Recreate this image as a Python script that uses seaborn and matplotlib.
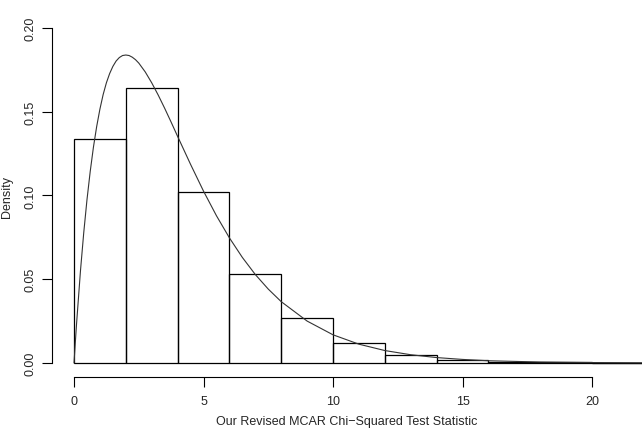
import numpy as np
import matplotlib
matplotlib.use("Agg")
import matplotlib.pyplot as plt
import seaborn as sns

# histogram bins (width 2) and density heights
bin_edges = [0, 2, 4, 6, 8, 10, 12, 14, 16, 18, 20, 22]
bar_heights = [0.134, 0.164, 0.102, 0.053, 0.027, 0.012, 0.0048, 0.0018, 0.0007, 0.0003, 0.0001]

# reference density curve
curve_x = [0, 0.05, 0.1, 0.25, 0.375, 0.5, 0.625, 0.75, 0.875, 1, 1.125, 1.25, 1.375,
           1.5, 1.625, 1.75, 1.875, 2, 2.125, 2.25, 2.375, 2.5, 2.75, 3, 3.25, 3.5,
           3.75, 4, 4.5, 5, 5.5, 6, 6.5, 7, 7.5, 8, 9, 10, 11, 12, 13, 14, 15, 16,
           18, 20, 22]
curve_y = [0, 0.0122, 0.0238, 0.0552, 0.0777, 0.0974, 0.1143, 0.1289, 0.1412, 0.1516,
           0.1603, 0.1673, 0.1728, 0.1771, 0.1803, 0.1824, 0.1836, 0.1839, 0.1836,
           0.1826, 0.1811, 0.1791, 0.1738, 0.1673, 0.1600, 0.1521, 0.1438, 0.1353,
           0.1186, 0.1026, 0.0879, 0.0747, 0.0630, 0.0528, 0.0441, 0.0366, 0.0250,
           0.0168, 0.0112, 0.0074, 0.0049, 0.0032, 0.0021, 0.0013, 0.00055, 0.00023,
           0.00009]

x_ticks = [0, 5, 10, 15, 20]
y_ticks = [0.00, 0.05, 0.10, 0.15, 0.20]

sns.set_style("white")
plt.rcParams["font.family"] = ["Liberation Sans", "DejaVu Sans"]

fig = plt.figure(figsize=(6.42, 4.31), dpi=100)
ax = fig.add_axes([52 / 642, 1 - 378 / 431, 1 - 52 / 642, (378 - 16) / 431])

mids = [(a + b) / 2 for a, b in zip(bin_edges[:-1], bin_edges[1:])]
sns.histplot(x=mids, weights=bar_heights, bins=bin_edges, stat="count",
             fill=False, color="black", linewidth=0.9, element="bars", ax=ax)
sns.lineplot(x=curve_x, y=curve_y, color="#333333", linewidth=0.8, ax=ax)

ax.set_xlim(-0.85, 21.93)
ax.set_ylim(-0.0084, 0.2078)

for side in ["top", "right"]:
    ax.spines[side].set_visible(False)
ax.spines["left"].set_bounds(0, 0.2)
ax.spines["bottom"].set_bounds(0, 20)
for side in ["left", "bottom"]:
    ax.spines[side].set_color("black")
    ax.spines[side].set_linewidth(0.8)

ax.set_xticks(x_ticks)
ax.set_xticklabels([str(t) for t in x_ticks])
ax.set_yticks(y_ticks)
ax.set_yticklabels([f"{t:.2f}" for t in y_ticks], rotation=90, va="center")
ax.tick_params(axis="both", direction="out", length=7, width=0.8, color="black",
               labelsize=9, bottom=True, left=True)
ax.tick_params(axis="x", pad=6)
ax.tick_params(axis="y", pad=4)

ax.set_xlabel("Our Revised MCAR Chi\u2212Squared Test Statistic", fontsize=9)
ax.set_ylabel("Density", fontsize=9)
ax.xaxis.set_label_coords(0.5, -0.105)
ax.yaxis.set_label_coords(-0.066, 0.5)

fig.savefig("out.png", dpi=100)
